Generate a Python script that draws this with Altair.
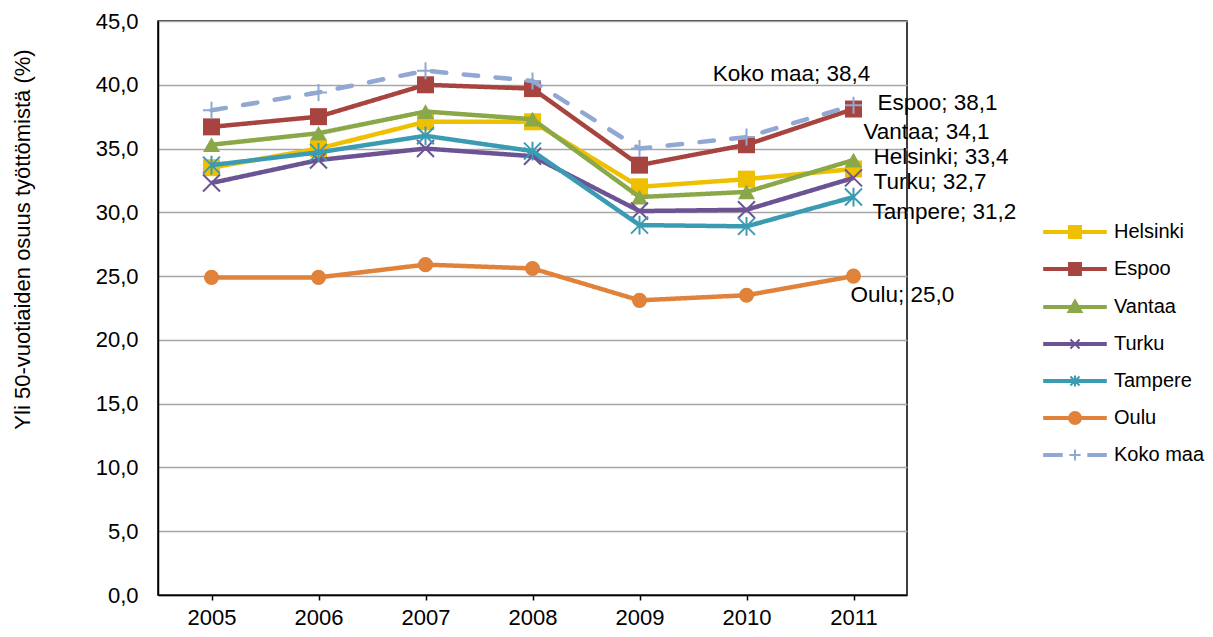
import altair as alt
import pandas as pd

years = ["2005", "2006", "2007", "2008", "2009", "2010", "2011"]
series = ["Helsinki", "Espoo", "Vantaa", "Turku", "Tampere", "Oulu", "Koko maa"]

helsinki = [33.5, 35.0, 37.1, 37.1, 32.0, 32.6, 33.4]
espoo = [36.7, 37.5, 40.0, 39.7, 33.7, 35.3, 38.1]
vantaa = [35.3, 36.2, 37.9, 37.3, 31.2, 31.6, 34.1]
turku = [32.3, 34.1, 35.0, 34.4, 30.1, 30.2, 32.7]
tampere = [33.7, 34.7, 36.0, 34.8, 29.0, 28.9, 31.2]
oulu = [24.9, 24.9, 25.9, 25.6, 23.1, 23.5, 25.0]
koko_maa = [38.0, 39.4, 41.1, 40.3, 35.0, 35.9, 38.4]

colors = ["#EEC000", "#A84440", "#8BA848", "#6C5494", "#3B9BB2", "#E0823A", "#91A8D2"]

y_ticks = [0, 5, 10, 15, 20, 25, 30, 35, 40, 45]

# marker styles (shape, filled, size)
X_PATH = "M-1,-1L1,1M-1,1L1,-1"
AST_PATH = "M-1,-1L1,1M-1,1L1,-1M0,-1.1L0,1.1"
PLUS_PATH = "M-1,0L1,0M0,-1L0,1"
markers = [
    ("square", True, 289),
    ("square", True, 289),
    ("triangle-up", True, 289),
    (X_PATH, False, 289),
    (AST_PATH, False, 289),
    ("circle", True, 227),
    (PLUS_PATH, False, 289),
]

BAR = "M-4.4,-0.15L4.4,-0.15L4.4,0.15L-4.4,0.15Z"
legend_shapes = [
    BAR + "M-0.85,-0.85L0.85,-0.85L0.85,0.85L-0.85,0.85Z",
    BAR + "M-0.85,-0.85L0.85,-0.85L0.85,0.85L-0.85,0.85Z",
    BAR + "M0,-0.95L0.95,0.7L-0.95,0.7Z",
    BAR + "M-0.65,-0.65L0.65,0.65M-0.65,0.65L0.65,-0.65",
    BAR + "M-0.65,-0.65L0.65,0.65M-0.65,0.65L0.65,-0.65M0,-0.8L0,0.8",
    BAR + "M-0.85,0A0.85,0.85,0,1,0,0.85,0A0.85,0.85,0,1,0,-0.85,0Z",
    "M-4.4,-0.15L-1.9,-0.15L-1.9,0.15L-4.4,0.15Z"
    "M1.9,-0.15L4.4,-0.15L4.4,0.15L1.9,0.15Z"
    "M-0.8,0L0.8,0M0,-0.8L0,0.8",
]

# label offsets (style)
label_offsets = [
    ("left", 20, -12),
    ("left", 24, -6),
    ("left", 10, -28),
    ("left", 20, 4),
    ("left", 19, 15),
    ("left", -3, 19),
    ("center", -62, -31),
]

values_by_series = [helsinki, espoo, vantaa, turku, tampere, oulu, koko_maa]
rows = []
for name, vals in zip(series, values_by_series):
    for yr, v in zip(years, vals):
        rows.append({"year": yr, "value": v, "series": name})
df = pd.DataFrame(rows)

FONT = "Liberation Sans"

x_enc = alt.X(
    "year:O",
    scale=alt.Scale(type="point", padding=0.5),
    axis=alt.Axis(
        title=None, labelAngle=0, labelFontSize=22, labelFont=FONT, labelColor="black",
        domainColor="black", domainWidth=1.5, tickColor="black", tickWidth=1.5,
        tickSize=5, labelPadding=7, grid=False,
    ),
)
y_enc = alt.Y(
    "value:Q",
    scale=alt.Scale(domain=[0, 45], nice=False),
    axis=alt.Axis(
        title="Yli 50-vuotiaiden osuus työttömistä (%)",
        values=y_ticks,
        labelExpr="replace(format(datum.value, '.1f'), '.', ',')",
        labelFontSize=22, labelFont=FONT, labelColor="black", labelPadding=20,
        ticks=False, domainColor="black", domainWidth=1.5,
        grid=True, gridColor="#A6A6A6", gridWidth=1.5,
        titleFontSize=22, titleFont=FONT, titleFontWeight="normal", titleColor="black",
        titleX=-136, titleY=218, titleAlign="center", titleBaseline="middle", titleAngle=270,
    ),
)

layers = []
for i, name in enumerate(series):
    sub = alt.Chart(df).transform_filter(alt.datum.series == name)
    is_dash = name == "Koko maa"
    line = sub.mark_line(
        color=colors[i], strokeWidth=4.5,
        strokeDash=[14.5, 17.5] if is_dash else [1, 0],
        strokeCap="round" if is_dash else "butt",
        strokeJoin="round",
    ).encode(x=x_enc, y=y_enc)
    shape, filled, size = markers[i]
    if filled:
        pt = sub.mark_point(shape=shape, filled=True, size=size, color=colors[i], opacity=1)
    else:
        pt = sub.mark_point(shape=shape, filled=False, size=size, color=colors[i],
                            strokeWidth=2, opacity=1)
    pt = pt.encode(x=x_enc, y=y_enc)
    layers += [line, pt]

for i, name in enumerate(series):
    align, dx, dy = label_offsets[i]
    txt = (
        alt.Chart(df)
        .transform_filter((alt.datum.series == name) & (alt.datum.year == years[-1]))
        .transform_calculate(
            lbl="datum.series + '; ' + replace(format(datum.value, '.1f'), '.', ',')"
        )
        .mark_text(align=align, baseline="middle", dx=dx, dy=dy, fontSize=22.5,
                   font=FONT, color="black")
        .encode(x=x_enc, y=y_enc, text="lbl:N")
    )
    layers.append(txt)

LEG = dict(
    title=None, orient="none", legendX=907, legendY=201,
    symbolSize=196, symbolStrokeWidth=2, symbolOpacity=1,
    labelFontSize=20, labelFont=FONT, labelColor="black",
    labelOffset=29, rowPadding=17,
)

legend_layer = (
    alt.Chart(df)
    .mark_point(filled=True, opacity=0)
    .encode(
        x=x_enc,
        y=y_enc,
        fill=alt.Fill("series:N", scale=alt.Scale(domain=series, range=colors),
                      legend=alt.Legend(title=None)),
        stroke=alt.Stroke("series:N", scale=alt.Scale(domain=series, range=colors),
                          legend=alt.Legend(title=None)),
        shape=alt.Shape(
            "series:N",
            scale=alt.Scale(domain=series, range=legend_shapes),
            legend=alt.Legend(**LEG),
        ),
    )
)
layers.append(legend_layer)

chart = (
    alt.layer(*layers)
    .properties(
        width=749, height=574,
        autosize=alt.AutoSizeParams(type="none"),
        padding={"left": 150, "top": 13, "right": 298, "bottom": 34},
    )
    .configure_view(stroke="black", strokeWidth=1.5)
    .configure_legend(
        orient="none", legendX=907, legendY=201,
        symbolSize=196, symbolStrokeWidth=2, symbolOpacity=1,
        labelFontSize=20, labelFont=FONT, labelColor="black",
        labelOffset=29, rowPadding=17,
    )
)

chart.save("out.html", embed_options={"renderer": "svg", "actions": False})
